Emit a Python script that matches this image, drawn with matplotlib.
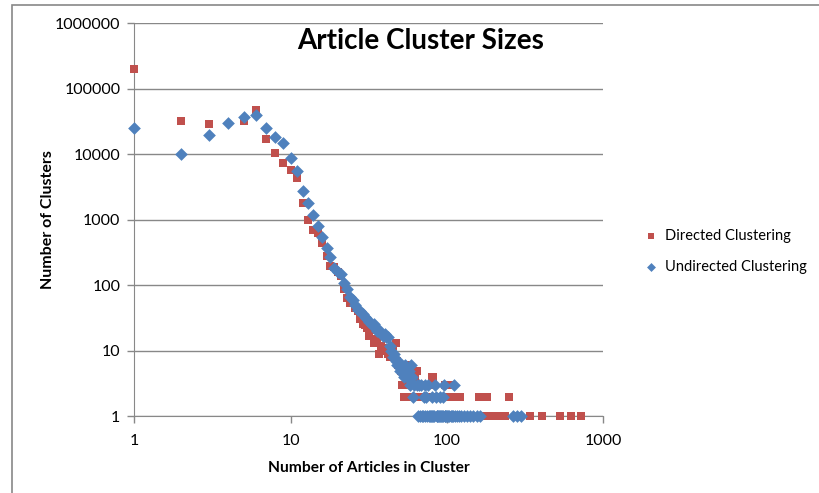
import matplotlib
matplotlib.use("Agg")
import matplotlib.pyplot as plt
from matplotlib.patches import Rectangle
import numpy as np

plt.rcParams['font.family'] = ['Lato', 'DejaVu Sans']

# cluster size -> number of clusters
directed_size = [1, 2, 3, 5, 6, 7, 8, 9, 10, 11, 12, 13, 14, 15, 16, 17, 18, 19, 20,
                 21, 22, 23, 24, 25, 26, 27, 28, 29, 30, 31, 32, 33, 34, 35, 36, 37, 38,
                 39, 40, 41, 42, 43, 44, 45, 46, 47, 48, 49, 50, 51, 52, 53, 54, 55, 56,
                 57, 58, 59, 60, 62, 63, 64, 65, 66, 67, 68, 70, 71, 73, 74, 76, 78, 80,
                 82, 83, 86, 88, 91, 94, 97, 100, 103, 108, 110, 114, 118, 121, 160,
                 165, 170, 175, 180, 185, 195, 205, 215, 228, 237, 250, 280, 340, 405,
                 530, 625, 720]
directed_count = [200000, 32000, 29000, 32500, 48000, 17300, 10400, 7300, 5800, 4400,
                  1800, 1000, 700, 620, 450, 280, 200, 192, 160, 140, 88, 65, 53, 53,
                  45, 40, 31, 26, 25, 22, 17, 21, 13, 13, 15, 9, 12, 11, 10, 10, 9, 8,
                  11, 12, 8, 13, 7, 6, 6, 5, 3, 2, 3, 5, 2, 6, 2, 3, 2, 2, 4, 5, 2, 3,
                  3, 2, 3, 2, 3, 2, 3, 3, 4, 4, 2, 2, 2, 2, 2, 3, 2, 2, 3, 2, 2, 2, 2,
                  2, 1, 1, 1, 2, 1, 1, 1, 1, 1, 1, 2, 1, 1, 1, 1, 1, 1]

undirected_size = [1, 2, 3, 4, 5, 6, 7, 8, 9, 10, 11, 12, 13, 14, 15, 16, 17, 18, 19,
                   20, 21, 22, 23, 24, 25, 26, 27, 28, 29, 30, 31, 32, 33, 34, 35, 36,
                   37, 38, 39, 40, 41, 42, 43, 44, 45, 46, 47, 48, 49, 50, 51, 52, 53,
                   54, 55, 56, 57, 58, 59, 60, 61, 62, 64, 66, 68, 71, 72, 74, 76, 80,
                   84, 85, 90, 95, 96, 112,
                   65, 67, 69, 70, 73, 75, 77, 78, 79, 81, 82, 83, 86, 87, 88, 89, 91,
                   92, 93, 94, 97, 98, 99, 101, 102, 104, 106, 108, 110, 113, 116, 120,
                   124, 128, 134, 140, 147, 155, 162, 265, 282, 300]
undirected_count = [25500, 10000, 19500, 30300, 36700, 40000, 25500, 18600, 14700, 8700,
                    5600, 2800, 1800, 1200, 800, 540, 375, 270, 181, 158, 147, 108, 88,
                    67, 60, 50, 42, 40, 36, 33, 31, 28, 25, 26, 22, 20, 21, 19, 17, 18,
                    16, 16, 12, 10, 8, 9, 7, 6, 7, 5, 6, 5, 4, 6, 5, 4, 5, 3, 6, 4, 2,
                    3, 3, 3, 3, 2, 3, 2, 3, 2, 3, 2, 2, 2, 3, 3,
                    1, 1, 1, 1, 1, 1, 1, 1, 1, 1, 1, 1, 1, 1, 1, 1, 1, 1, 1, 1, 1, 1, 1,
                    1, 1, 1, 1, 1, 1, 1, 1, 1, 1, 1, 1, 1, 1, 1, 1, 1, 1, 1]

red = '#C0504D'
blue = '#4F81BD'
grey = '#888888'

fig = plt.figure(figsize=(8.2, 4.93), dpi=100)
ax = fig.add_axes([0.1638, 0.1556, 0.5716, 0.7971])

ax.scatter(directed_size, directed_count, marker='s', s=30, color=red,
           linewidths=0, label='Directed Clustering', zorder=3, clip_on=False)
ax.scatter(undirected_size, undirected_count, marker='D', s=42, color=blue,
           linewidths=0, label='Undirected Clustering', zorder=4, clip_on=False)

ax.set_xscale('log')
ax.set_yscale('log')
ax.set_xlim(1, 1000)
ax.set_ylim(1, 1000000)
ax.set_xticks([1, 10, 100, 1000])
ax.set_xticklabels(['1', '10', '100', '1000'])
ax.set_yticks([1, 10, 100, 1000, 10000, 100000, 1000000])
ax.set_yticklabels(['1', '10', '100', '1000', '10000', '100000', '1000000'])
ax.minorticks_off()
ax.tick_params(axis='both', direction='out', length=5, color=grey, width=1,
               labelsize=11.5, pad=8)
ax.tick_params(axis='y', pad=5)
ax.grid(axis='y', color=grey, linewidth=1)
ax.set_axisbelow(True)
for side in ['top', 'right']:
    ax.spines[side].set_visible(False)
for side in ['left', 'bottom']:
    ax.spines[side].set_color(grey)

ax.set_xlabel('Number of Articles in Cluster', fontsize=11.2, fontweight='bold', labelpad=9)
ax.set_ylabel('Number of Clusters', fontsize=11.5, fontweight='bold', labelpad=0)
ax.text(0.61, 0.955, 'Article Cluster Sizes', transform=ax.transAxes, ha='center',
        va='center', fontsize=20, fontweight='bold')

ax.legend(loc='center left', bbox_to_anchor=(1.043, 0.42), frameon=False, fontsize=10.5,
          handletextpad=0.0, labelspacing=1.15, markerscale=0.7)

fig.patches.append(Rectangle((12 / 820, -0.1), 1.2, 1 - 5 / 493 + 0.1,
                             transform=fig.transFigure, fill=False,
                             edgecolor=grey, linewidth=1.2))

fig.savefig('out.png', dpi=100)
